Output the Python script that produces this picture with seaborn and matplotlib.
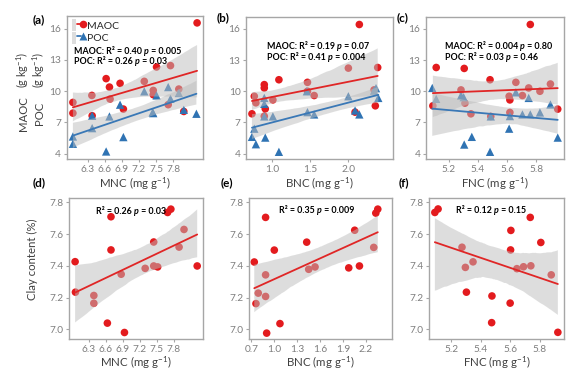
import numpy as np
import matplotlib
matplotlib.use("Agg")
import matplotlib.pyplot as plt
import seaborn as sns
from matplotlib.lines import Line2D
from matplotlib.patches import Patch
from matplotlib.legend_handler import HandlerTuple
from matplotlib.ticker import FormatStrFormatter

sns.set_theme(style="white")
plt.rcParams['font.family'] = ['Lato', 'DejaVu Sans']
plt.rcParams['mathtext.fontset'] = 'custom'
plt.rcParams['mathtext.rm'] = 'Lato'
plt.rcParams['mathtext.it'] = 'Lato:italic'
plt.rcParams['mathtext.bf'] = 'Lato:bold'

# ---------------- data ----------------
# (a) MNC vs MAOC / POC
mnc_maoc_x = [6.044, 6.044, 6.376, 6.381, 6.626, 6.684, 6.695, 6.870, 6.928, 7.294,
              7.451, 7.451, 7.509, 7.753, 7.713, 7.899, 7.986, 8.219]
maoc_a = [8.91, 7.88, 9.58, 7.63, 11.19, 10.38, 9.23, 10.74, 8.27, 10.93,
          10.06, 9.65, 12.31, 12.44, 8.69, 10.19, 8.04, 16.54]
mnc_poc_x = [6.044, 6.044, 6.381, 6.381, 6.626, 6.684, 6.870, 6.928, 7.294, 7.451,
             7.440, 7.509, 7.713, 7.753, 7.899, 7.986, 8.207]
poc_a = [5.64, 4.94, 7.63, 6.44, 4.20, 7.56, 8.69, 5.58, 9.97, 7.88,
         7.95, 9.58, 10.38, 9.26, 9.81, 8.20, 7.82]

# (b) BNC vs MAOC / POC
bnc_maoc_x = [0.738, 0.769, 0.790, 0.900, 0.900, 0.913, 0.900, 1.013, 1.092, 1.467,
              1.467, 1.555, 2.004, 2.092, 2.148, 2.341, 2.358, 2.389]
maoc_b = [7.83, 9.52, 8.89, 10.64, 10.32, 8.31, 7.60, 9.17, 11.11, 10.86,
          10.00, 9.59, 12.23, 7.99, 16.43, 10.13, 8.60, 12.29]
bnc_poc_x = [0.738, 0.769, 0.790, 0.900, 0.900, 0.900, 0.913, 1.013, 1.092, 1.459,
             1.467, 1.555, 2.004, 2.092, 2.148, 2.341, 2.367, 2.397]
poc_b = [5.61, 6.40, 4.90, 9.36, 8.79, 7.58, 5.54, 7.58, 4.17, 10.00,
         7.99, 7.77, 9.52, 8.15, 7.77, 10.06, 10.30, 9.36]

# (c) FNC vs MAOC / POC
fnc_maoc_x = [5.091, 5.114, 5.284, 5.311, 5.306, 5.352, 5.483, 5.488, 5.614, 5.619,
              5.619, 5.660, 5.705, 5.748, 5.759, 5.825, 5.897, 5.947]
maoc_c = [8.60, 12.29, 10.13, 8.85, 12.20, 7.83, 11.11, 7.58, 9.52, 9.17,
          7.96, 10.86, 9.59, 10.32, 16.43, 10.00, 10.70, 8.28]
fnc_poc_x = [5.087, 5.114, 5.284, 5.302, 5.306, 5.358, 5.488, 5.483, 5.614, 5.619,
             5.660, 5.705, 5.748, 5.759, 5.825, 5.897, 5.947]
poc_c = [10.32, 9.27, 9.59, 9.43, 4.87, 5.61, 7.58, 4.17, 6.40, 7.61,
         9.90, 7.77, 9.36, 7.77, 7.96, 8.73, 5.54]

# (d) MNC vs clay
mnc_clay_x = [6.056, 6.062, 6.387, 6.387, 6.626, 6.690, 6.690, 6.870, 6.928, 7.294,
              7.445, 7.445, 7.515, 7.690, 7.748, 7.893, 7.980, 8.213]
clay_d = [7.427, 7.235, 7.214, 7.165, 7.040, 7.710, 7.501, 7.348, 6.981, 7.385,
          7.551, 7.400, 7.394, 7.737, 7.758, 7.519, 7.630, 7.400]

# (e) BNC vs clay
bnc_clay_x = [0.738, 0.760, 0.790, 0.886, 0.886, 0.886, 0.900, 1.000, 1.074, 1.424,
              1.450, 1.533, 1.974, 2.052, 2.114, 2.301, 2.328, 2.354]
clay_e = [7.425, 7.163, 7.229, 7.706, 7.344, 7.208, 6.977, 7.500, 7.037, 7.550,
          7.379, 7.394, 7.388, 7.625, 7.400, 7.517, 7.733, 7.758]

# (f) FNC vs clay
fnc_clay_x = [5.087, 5.109, 5.272, 5.295, 5.347, 5.302, 5.476, 5.474, 5.605, 5.603,
              5.600, 5.646, 5.691, 5.737, 5.741, 5.809, 5.880, 5.925]
clay_f = [7.737, 7.759, 7.518, 7.391, 7.426, 7.235, 7.211, 7.043, 7.624, 7.501,
          7.166, 7.383, 7.395, 7.706, 7.401, 7.548, 7.344, 6.982]

stats_top = {
    'a': [("MAOC: ", "0.40", "0.005"), ("POC: ", "0.26", "0.03")],
    'b': [("MAOC: ", "0.19", "0.07"), ("POC: ", "0.41", "0.004")],
    'c': [("MAOC: ", "0.004", "0.80"), ("POC: ", "0.03", "0.46")],
}
stats_bottom = {'d': ("0.26", "0.03"), 'e': ("0.35", "0.009"), 'f': ("0.12", "0.15")}

# ---------------- style ----------------
RED = '#e31b1e'
BLUE = '#2f73b3'
RED_LINE = '#e02626'
BLUE_LINE = '#3a78b6'
BAND = '#bdbdbd'
SPINE = '#a6a6a6'
TICKLAB = '#7f7f7f'
LABEL = '#404040'

W, H = 581, 375
fig = plt.figure(figsize=(5.81, 3.75), dpi=100, facecolor='white')


def add_ax(l, r, t, b):
    return fig.add_axes([l / W, 1 - b / H, (r - l) / W, (b - t) / H])


def style(ax):
    ax.set_facecolor('white')
    for sp in ax.spines.values():
        sp.set_visible(True)
        sp.set_color(SPINE)
        sp.set_linewidth(1.0)
    ax.tick_params(axis='both', which='major', bottom=True, left=True, direction='out',
                   length=2.5, width=0.8, color=SPINE, labelsize=7.3,
                   labelcolor=TICKLAB, pad=1.5)
    ax.grid(False)


def fit(ax, x, y, color, lcolor, marker, size, seed):
    x = np.asarray(x); y = np.asarray(y)
    sns.scatterplot(x=x, y=y, ax=ax, color=color, marker=marker, s=size,
                    edgecolor='none', linewidth=0, zorder=2, legend=False)
    sns.regplot(x=x, y=y, ax=ax, scatter=False, ci=95, seed=seed, n_boot=1000,
                color=lcolor, line_kws=dict(lw=1.3, zorder=4))
    band = ax.collections[-1]
    band.set_facecolor(BAND)
    band.set_edgecolor('none')
    band.set_alpha(0.5)
    band.set_zorder(3)


def stat_text(ax, px, py, prefix, r2, p, size=6.4):
    t1 = ax.annotate(f"{prefix}R² = {r2} ", xy=(px, H - py), xycoords='figure pixels',
                     ha='left', va='center', fontsize=size, fontweight='bold', color='black')
    t2 = ax.annotate("p", xy=(1, 0.5), xycoords=t1, ha='left', va='center', fontsize=size,
                     fontweight='bold', fontstyle='italic', color='black')
    ax.annotate(" = " + p, xy=(1, 0.5), xycoords=t2, ha='left', va='center', fontsize=size,
                fontweight='bold', color='black')


# ---------------- axes ----------------
ax_a = add_ax(66.7, 203.3, 16.0, 159.3)
ax_b = add_ax(246.0, 393.0, 16.5, 159.3)
ax_c = add_ax(426.0, 564.0, 16.5, 159.3)
ax_d = add_ax(69.0, 203.3, 197.7, 339.0)
ax_e = add_ax(248.7, 392.0, 197.7, 339.0)
ax_f = add_ax(428.7, 564.0, 197.7, 339.0)

top = [(ax_a, mnc_maoc_x, maoc_a, mnc_poc_x, poc_a),
       (ax_b, bnc_maoc_x, maoc_b, bnc_poc_x, poc_b),
       (ax_c, fnc_maoc_x, maoc_c, fnc_poc_x, poc_c)]
for i, (ax, xm, ym, xp, yp) in enumerate(top):
    fit(ax, xm, ym, RED, RED_LINE, 'o', 30, 10 + i)
    fit(ax, xp, yp, BLUE, BLUE_LINE, '^', 36, 20 + i)
    ax.set_ylim(3.45, 17.2)
    ax.set_yticks([4, 7, 10, 13, 16])

bottom = [(ax_d, mnc_clay_x, clay_d), (ax_e, bnc_clay_x, clay_e), (ax_f, fnc_clay_x, clay_f)]
for i, (ax, x, y) in enumerate(bottom):
    fit(ax, x, y, RED, RED_LINE, 'o', 30, 30 + i)
    ax.set_ylim(6.94, 7.83)
    ax.set_yticks([7.0, 7.2, 7.4, 7.6, 7.8])
    ax.yaxis.set_major_formatter(FormatStrFormatter('%.1f'))

ax_b.set_xlim(0.66, 2.59)
ax_e.set_xlim(0.665, 2.54)

for ax in (ax_a, ax_d):
    ax.set_xticks([6.3, 6.6, 6.9, 7.2, 7.5, 7.8])
ax_b.set_xticks([1.0, 1.5, 2.0])
ax_e.set_xticks([0.7, 1.0, 1.3, 1.6, 1.9, 2.2])
for ax in (ax_c, ax_f):
    ax.set_xticks([5.2, 5.4, 5.6, 5.8])
for ax in (ax_a, ax_b, ax_c, ax_d, ax_e, ax_f):
    ax.xaxis.set_major_formatter(FormatStrFormatter('%.1f'))
    ax.set_xlabel("")
    ax.set_ylabel("")
    style(ax)

# x labels
xl = [(ax_a, "MNC"), (ax_b, "BNC"), (ax_c, "FNC"), (ax_d, "MNC"), (ax_e, "BNC"), (ax_f, "FNC")]
for ax, name in xl:
    ax.set_xlabel(name + r" (mg g$^{-1}$)", fontsize=8.3, color=LABEL, labelpad=1)

# y labels
fig.text(23 / W, 1 - 114 / H, "MAOC", rotation=90, ha='center', va='center', fontsize=8.2, color=LABEL)
fig.text(23 / W, 1 - 70 / H, r"(g kg$^{-1}$)", rotation=90, ha='center', va='center', fontsize=7.8, color=LABEL)
fig.text(39 / W, 1 - 113 / H, "POC", rotation=90, ha='center', va='center', fontsize=8.2, color=LABEL)
fig.text(39 / W, 1 - 70 / H, r"(g kg$^{-1}$)", rotation=90, ha='center', va='center', fontsize=7.8, color=LABEL)
fig.text(32 / W, 1 - 259 / H, "Clay content (%)", rotation=90, ha='center', va='center', fontsize=8.2, color=LABEL)

# panel letters
for lab, (px, py) in {'a': (39, 20), 'b': (223, 18), 'c': (403, 18),
                      'd': (39, 183), 'e': (227, 183), 'f': (404, 183)}.items():
    fig.text(px / W, 1 - py / H, f"({lab})", ha='center', va='center', fontsize=8.5,
             fontweight='bold', color='black')

# statistics text
pos_top = {'a': (ax_a, 74, 51.5, 61.5), 'b': (ax_b, 267, 46.7, 57.3), 'c': (ax_c, 445, 46.7, 57.3)}
for k, (ax, px, y1, y2) in pos_top.items():
    (p1, r1, pv1), (p2, r2, pv2) = stats_top[k]
    stat_text(ax, px, y1, p1, r1, pv1)
    stat_text(ax, px, y2, p2, r2, pv2)
pos_bot = {'d': (ax_d, 96, 211), 'e': (ax_e, 279, 210.7), 'f': (ax_f, 456, 210.7)}
for k, (ax, px, py) in pos_bot.items():
    r2, pv = stats_bottom[k]
    stat_text(ax, px, py, "", r2, pv)

# legend in (a)
h_maoc = (Patch(facecolor=BAND, alpha=0.5, edgecolor='none'), Line2D([], [], color=RED_LINE, lw=1.3),
          Line2D([], [], color=RED, marker='o', ls='none', ms=5.5, mec='none'))
h_poc = (Patch(facecolor=BAND, alpha=0.5, edgecolor='none'), Line2D([], [], color=BLUE_LINE, lw=1.3),
         Line2D([], [], color=BLUE, marker='^', ls='none', ms=6, mec='none'))
leg = ax_a.legend([h_maoc, h_poc], ["MAOC", "POC"], handler_map={tuple: HandlerTuple(ndivide=None)},
                  loc='upper left', bbox_to_anchor=(0.03, 0.985), frameon=False, fontsize=7.5,
                  handlelength=1.3, handleheight=1.4, handletextpad=0.15, labelspacing=0.05,
                  borderpad=0.1, borderaxespad=0)
for t in leg.get_texts():
    t.set_color('#262626')

fig.savefig("out.png", dpi=100, facecolor='white')
